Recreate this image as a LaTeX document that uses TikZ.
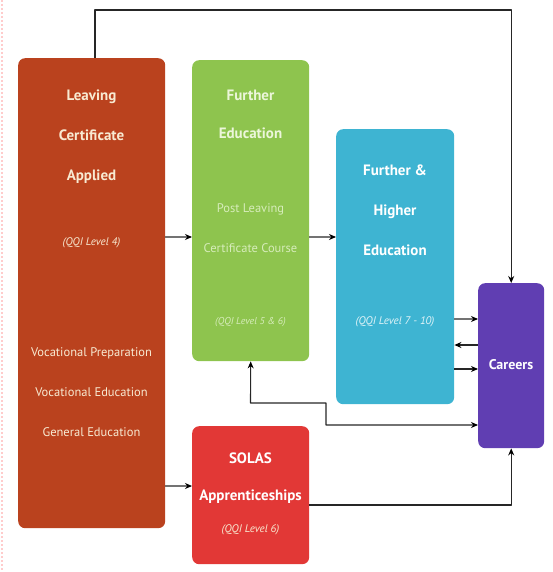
\documentclass[tikz,border=0pt]{standalone}
\usepackage{fontspec}
\setmainfont{PT Sans}
\usetikzlibrary{arrows.meta}
\definecolor{lcred}{RGB}{186,66,30}
\definecolor{fegreen}{RGB}{142,196,78}
\definecolor{heblue}{RGB}{62,180,210}
\definecolor{carpurple}{RGB}{96,62,178}
\definecolor{solred}{RGB}{226,56,54}
\definecolor{cream}{RGB}{248,234,210}
\definecolor{palegreen}{RGB}{236,246,218}
\definecolor{fadegreen}{RGB}{214,236,186}
\begin{document}
\begin{tikzpicture}[x=1pt,y=-1pt,>={Stealth[length=7pt,width=6pt,black]},line join=round,
	box/.style={rectangle,rounded corners=7pt,anchor=north west,inner sep=0pt},
	head/.style={align=center,font=\bfseries\fontsize{15}{40}\selectfont},
	qqi/.style={font=\itshape\fontsize{11}{11}\selectfont},
	body/.style={align=center,font=\fontsize{12.5}{40}\selectfont},
	link/.style={black!85,line width=1.1pt}]
	\useasboundingbox (0,0) rectangle (552,572);
	\draw[pink!80,dotted,line width=2pt] (1.5,0) -- (1.5,572);
	% boxes
	\node[box,fill=lcred,minimum width=147pt,minimum height=470pt] (lca) at (18,58) {};
	\node[box,fill=fegreen,minimum width=117pt,minimum height=301pt] (fe) at (192,60) {};
	\node[box,fill=heblue,minimum width=118pt,minimum height=275pt] (fhe) at (336,129) {};
	\node[box,fill=carpurple,minimum width=66pt,minimum height=165pt] (car) at (478,283) {};
	\node[box,fill=solred,minimum width=117pt,minimum height=138pt] (sol) at (192,426) {};
	% texts
	\node[head,text=cream] (lcatitle) at (91.5,137) {Leaving\\Certificate\\Applied};
	\node[qqi,text=cream] (lcaqqi) at (91.5,243) {(QQI Level 4)};
	\node[body,text=cream] (lcabody) at (91.5,392) {Vocational Preparation\\Vocational Education\\General Education};
	\node[head,text=palegreen,font=\bfseries\fontsize{15}{38}\selectfont] (fetitle) at (250.5,114) {Further\\Education};
	\node[body,text=fadegreen] (febody) at (250.5,228) {Post Leaving\\Certificate Course};
	\node[qqi,text=fadegreen,font=\itshape\fontsize{10}{10}\selectfont] (feqqi) at (250.5,322) {(QQI Level 5 \& 6)};
	\node[head,text=white] (fhetitle) at (395,210) {Further \&\\Higher\\Education};
	\node[qqi,text=white!85!heblue] (fheqqi) at (395,322) {(QQI Level 7 - 10)};
	\node[head,text=white,font=\bfseries\fontsize{14}{14}\selectfont] (cartitle) at (511,365) {Careers};
	\node[head,text=white,font=\bfseries\fontsize{15}{37}\selectfont] (soltitle) at (250.5,478) {SOLAS\\Apprenticeships};
	\node[qqi,text=cream] (solqqi) at (250.5,530) {(QQI Level 6)};
	% connectors
	\draw[link,->] (lca.north -| 95,0) -- (95,10) -| (car.north);
	\draw[link,->,black!55] (lca.east |- 0,237) -- (fe.west |- 0,237);
	\draw[link,->,black!55] (fe.east |- 0,237) -- (fhe.west |- 0,237);
	\draw[link,->,black!55] (lca.east |- 0,486) -- (sol.west |- 0,486);
	\draw[link,->,black!55] (fhe.east |- 0,319) -- (car.west |- 0,319);
	\draw[link,<-] (fhe.east |- 0,345) -- (car.west |- 0,345);
	\draw[link,->] (fhe.east |- 0,369) -- (car.west |- 0,369);
	\draw[link,<->] (fe.south) -- (250.5,403) -| (326,425) -- (car.west |- 0,425);
	\draw[link,->] (sol.east |- 0,505) -| (car.south);
\end{tikzpicture}
\end{document}
